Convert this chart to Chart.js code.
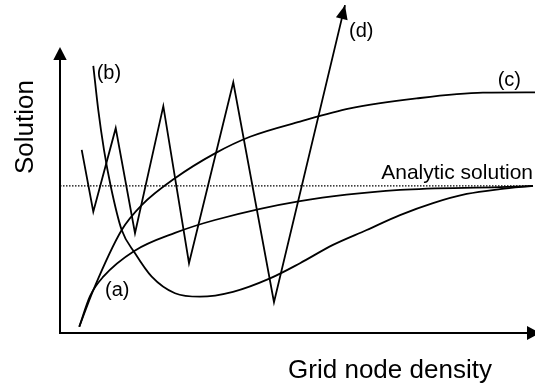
<!DOCTYPE html>
<html>
<head>
<meta charset="utf-8">
<script src="https://cdn.jsdelivr.net/npm/chart.js@4.4.0/dist/chart.umd.min.js"></script>
<style>
  html, body { margin: 0; padding: 0; background: #fff; }
  #wrap { width: 535px; height: 388px; position: relative; }
</style>
</head>
<body>
<div id="wrap"><canvas id="c"></canvas></div>
<script>
// ---- Data (x: grid node density, arbitrary units 0-100; y: solution, arbitrary units) ----
const analyticValue = 51.4;
const analyticX = [0, 99.6];

const curveAX = [4.06, 6.32, 9.12, 15.64, 24.21, 32.63, 50.53, 71.58, 92.63, 99.58];
const curveAY = [2.2, 12.9, 19.7, 28.7, 35.0, 39.5, 46.1, 50.0, 51.0, 51.4];

const curveBX = [7.01, 8.06, 9.26, 10.67, 12.99, 15.79, 19.31, 24.21, 29.47, 36.42, 44.21, 50.53, 57.47, 64.57, 71.58, 78.53, 85.62, 92.63, 99.58];
const curveBY = [93.4, 77.9, 64.0, 51.4, 36.0, 27.9, 19.7, 13.9, 12.7, 14.4, 19.1, 24.4, 30.8, 36.0, 41.2, 45.4, 48.6, 50.3, 51.4];

const curveCX = [4.06, 7.01, 12.99, 17.2, 24.21, 32.63, 40.0, 50.53, 61.05, 75.09, 89.05, 100];
const curveCY = [2.2, 15.0, 36.0, 44.7, 54.1, 62.8, 68.6, 73.9, 78.5, 82.0, 84.0, 84.1];

const curveDX = [4.57, 7.01, 11.73, 15.79, 21.75, 27.16, 36.48, 45.05, 60.0];
const curveDY = [64.0, 42.4, 71.6, 34.9, 79.3, 24.4, 87.6, 10.8, 114.6];

const seriesLabels = ['(a)', '(b)', '(c)', '(d)'];
const analyticLabel = 'Analytic solution';
const xTitle = 'Grid node density';
const yTitle = 'Solution';

// label anchor positions in data units
const labelX = [9.47, 7.72, 92.15, 60.84];
const labelY = [15.0, 90.7, 88.4, 105.4];
const analyticLabelPos = [99.58, 53.7];

const zip = (xs, ys) => xs.map((x, i) => ({ x: x, y: ys[i] }));

const lineStyle = { borderColor: '#000', borderWidth: 1.8, pointRadius: 0, fill: false };

const overlay = {
  id: 'overlay',
  afterDatasetsDraw(chart) {
    const ctx = chart.ctx;
    const xs = chart.scales.x, ys = chart.scales.y;
    const px = v => xs.getPixelForValue(v);
    const py = v => ys.getPixelForValue(v);
    ctx.save();
    ctx.fillStyle = '#000';
    ctx.strokeStyle = '#000';
    // axes
    const ox = px(0), oy = py(0);
    const yTop = py(100), xEnd = px(101.05);
    ctx.lineWidth = 2;
    ctx.beginPath();
    ctx.moveTo(ox, oy); ctx.lineTo(ox, yTop + 10);
    ctx.moveTo(ox - 1, oy); ctx.lineTo(xEnd - 10, oy);
    ctx.stroke();
    // arrowheads
    ctx.beginPath();
    ctx.moveTo(ox, yTop); ctx.lineTo(ox - 6.7, yTop + 13); ctx.lineTo(ox + 6.7, yTop + 13); ctx.closePath();
    ctx.fill();
    ctx.beginPath();
    ctx.moveTo(xEnd, oy); ctx.lineTo(xEnd - 13, oy - 7); ctx.lineTo(xEnd - 13, oy + 7); ctx.closePath();
    ctx.fill();
    // arrow on (d)
    const n = curveDX.length;
    const x1 = px(curveDX[n - 2]), y1 = py(curveDY[n - 2]);
    const x2 = px(curveDX[n - 1]), y2 = py(curveDY[n - 1]);
    const ang = Math.atan2(y2 - y1, x2 - x1);
    const L = 14, W = 6;
    ctx.beginPath();
    ctx.moveTo(x2, y2);
    ctx.lineTo(x2 - L * Math.cos(ang) + W * Math.sin(ang), y2 - L * Math.sin(ang) - W * Math.cos(ang));
    ctx.lineTo(x2 - L * Math.cos(ang) - W * Math.sin(ang), y2 - L * Math.sin(ang) + W * Math.cos(ang));
    ctx.closePath();
    ctx.fill();
    // series labels
    ctx.font = '20px "Liberation Sans", Arial, sans-serif';
    ctx.textAlign = 'left';
    ctx.textBaseline = 'middle';
    seriesLabels.forEach((t, i) => ctx.fillText(t, px(labelX[i]), py(labelY[i])));
    ctx.font = '21px "Liberation Sans", Arial, sans-serif';
    ctx.textAlign = 'right';
    ctx.textBaseline = 'alphabetic';
    ctx.fillText(analyticLabel, px(analyticLabelPos[0]), py(analyticLabelPos[1]));
    // axis titles
    ctx.font = '26px "Liberation Sans", Arial, sans-serif';
    ctx.textAlign = 'center';
    ctx.fillText(xTitle, 390, 378);
    ctx.translate(33, 127);
    ctx.rotate(-Math.PI / 2);
    ctx.fillText(yTitle, 0, 0);
    ctx.restore();
  }
};

new Chart(document.getElementById('c'), {
  type: 'line',
  data: {
    datasets: [
      Object.assign({ label: 'Analytic solution', data: zip(analyticX, analyticX.map(() => analyticValue)), borderDash: [1.5, 1.5] }, lineStyle, { borderWidth: 1.3 }),
      Object.assign({ label: '(a)', data: zip(curveAX, curveAY), cubicInterpolationMode: 'monotone' }, lineStyle),
      Object.assign({ label: '(b)', data: zip(curveBX, curveBY), cubicInterpolationMode: 'monotone' }, lineStyle),
      Object.assign({ label: '(c)', data: zip(curveCX, curveCY), cubicInterpolationMode: 'monotone' }, lineStyle),
      Object.assign({ label: '(d)', data: zip(curveDX, curveDY), tension: 0 }, lineStyle)
    ]
  },
  options: {
    responsive: true,
    maintainAspectRatio: false,
    animation: false,
    layout: { padding: { left: 60, right: 0, top: 4, bottom: 55 } },
    plugins: { legend: { display: false }, tooltip: { enabled: false } },
    scales: {
      x: { type: 'linear', min: 0, max: 100, display: false },
      y: { type: 'linear', min: 0, max: 115, display: false }
    }
  },
  plugins: [overlay]
});
</script>
</body>
</html>
